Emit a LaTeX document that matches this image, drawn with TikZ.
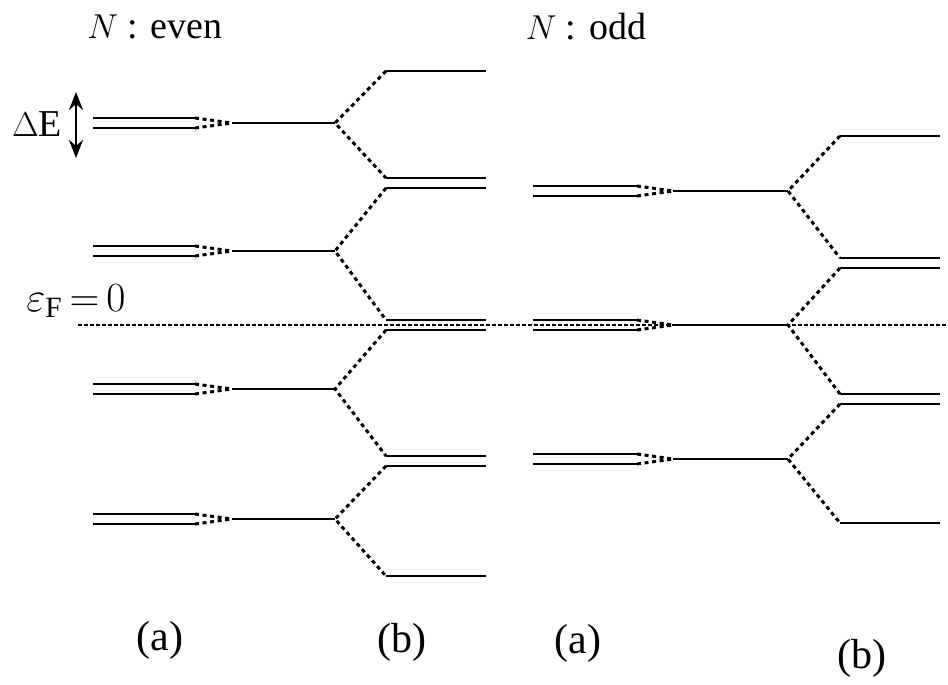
\documentclass[tikz,border=0pt]{standalone}
\usepackage{fontspec}
\setmainfont{Liberation Serif}
\usepackage{tikz}
\usetikzlibrary{arrows.meta, calc}

\begin{document}
\begin{tikzpicture}[x=0.5pt, y=-0.5pt,
    level/.style={line width=1.3pt},
    split/.style={line width=1.5pt, dash pattern=on 2pt off 1.8pt},
    fermi/.style={line width=1.2pt, dash pattern=on 1.8pt off 1.2pt},
    lbl/.style={font=\fontsize{19}{21}\selectfont, inner sep=0pt}]
    \useasboundingbox (0,0) rectangle (948,685);

    % Titles
    \node[lbl] (even) at (155,27) {$N$ : even};
    \node[lbl] (odd) at (586,27) {$N$ : odd};

    % Fermi level
    \coordinate (F1) at (78,325);
    \coordinate (F2) at (948,325);
    \draw[fermi] (F1) -- (F2);
    \node[lbl, font=\fontsize{21}{23}\selectfont, anchor=base west] (eF) at (26,311) {$\varepsilon_{\mathrm{F}}\,{=}\,0$};

    % Level spacing
    \coordinate (dE1) at (76,92);
    \coordinate (dE2) at (76,158);
    \draw[line width=1.1pt, {Stealth[length=9pt,width=7pt]}-{Stealth[length=9pt,width=7pt]}] (dE1) -- (dE2);
    \node[lbl] (dE) at (37,124) {$\Delta$E};

    % ---- N even ----
    % Branch points
    \coordinate (A1) at (335,123);
    \coordinate (A2) at (335,251);
    \coordinate (A3) at (335,389);
    \coordinate (A4) at (335,519);

    % Levels (a): doubly degenerate, merging
    \draw[level] (93,118) -- (195,118);
    \draw[level] (93,128) -- (195,128);
    \draw[split] (195,118) -- (232,123) (195,128) -- (232,123);
    \draw[level] (232,123) -- (A1);

    \draw[level] (93,246) -- (195,246);
    \draw[level] (93,256) -- (195,256);
    \draw[split] (195,246) -- (232,251) (195,256) -- (232,251);
    \draw[level] (232,251) -- (A2);

    \draw[level] (93,384) -- (195,384);
    \draw[level] (93,394) -- (195,394);
    \draw[split] (195,384) -- (232,389) (195,394) -- (232,389);
    \draw[level] (232,389) -- (A3);

    \draw[level] (93,514) -- (195,514);
    \draw[level] (93,524) -- (195,524);
    \draw[split] (195,514) -- (232,519) (195,524) -- (232,519);
    \draw[level] (232,519) -- (A4);

    % Levels (b): split
    \coordinate (B0) at (386,71);
    \coordinate (B1) at (386,178);
    \coordinate (B2) at (386,188);
    \coordinate (B3) at (386,320);
    \coordinate (B4) at (386,330);
    \coordinate (B5) at (386,456);
    \coordinate (B6) at (386,466);
    \coordinate (B7) at (386,576);

    \draw[split] (B0) -- (A1) -- (B1);
    \draw[split] (B2) -- (A2) -- (B3);
    \draw[split] (B4) -- (A3) -- (B5);
    \draw[split] (B6) -- (A4) -- (B7);

    \draw[level] (B0) -- ++(100,0);
    \draw[level] (B1) -- ++(100,0);
    \draw[level] (B2) -- ++(100,0);
    \draw[level] (B3) -- ++(100,0);
    \draw[level] (B4) -- ++(100,0);
    \draw[level] (B5) -- ++(100,0);
    \draw[level] (B6) -- ++(100,0);
    \draw[level] (B7) -- ++(100,0);

    % ---- N odd ----
    % Branch points
    \coordinate (C1) at (788,191);
    \coordinate (C2) at (788,325);
    \coordinate (C3) at (788,459);

    % Levels (a)
    \draw[level] (533,186) -- (637,186);
    \draw[level] (533,196) -- (637,196);
    \draw[split] (637,186) -- (673,191) (637,196) -- (673,191);
    \draw[level] (673,191) -- (C1);

    \draw[level] (533,320) -- (637,320);
    \draw[level] (533,330) -- (637,330);
    \draw[split] (637,320) -- (673,325) (637,330) -- (673,325);
    \draw[level] (673,325) -- (C2);

    \draw[level] (533,454) -- (637,454);
    \draw[level] (533,464) -- (637,464);
    \draw[split] (637,454) -- (673,459) (637,464) -- (673,459);
    \draw[level] (673,459) -- (C3);

    % Levels (b)
    \coordinate (D0) at (840,136);
    \coordinate (D1) at (840,258);
    \coordinate (D2) at (840,268);
    \coordinate (D3) at (840,394);
    \coordinate (D4) at (840,404);
    \coordinate (D5) at (840,523);

    \draw[split] (D0) -- (C1) -- (D1);
    \draw[split] (D2) -- (C2) -- (D3);
    \draw[split] (D4) -- (C3) -- (D5);

    \draw[level] (D0) -- ++(100,0);
    \draw[level] (D1) -- ++(100,0);
    \draw[level] (D2) -- ++(100,0);
    \draw[level] (D3) -- ++(100,0);
    \draw[level] (D4) -- ++(100,0);
    \draw[level] (D5) -- ++(100,0);

    % Column labels
    \node[lbl, font=\fontsize{21}{23}\selectfont] (ea) at (160,640) {(a)};
    \node[lbl, font=\fontsize{21}{23}\selectfont] (eb) at (402,642) {(b)};
    \node[lbl, font=\fontsize{21}{23}\selectfont] (oa) at (578,643) {(a)};
    \node[lbl, font=\fontsize{21}{23}\selectfont] (ob) at (862,658) {(b)};
\end{tikzpicture}
\end{document}
